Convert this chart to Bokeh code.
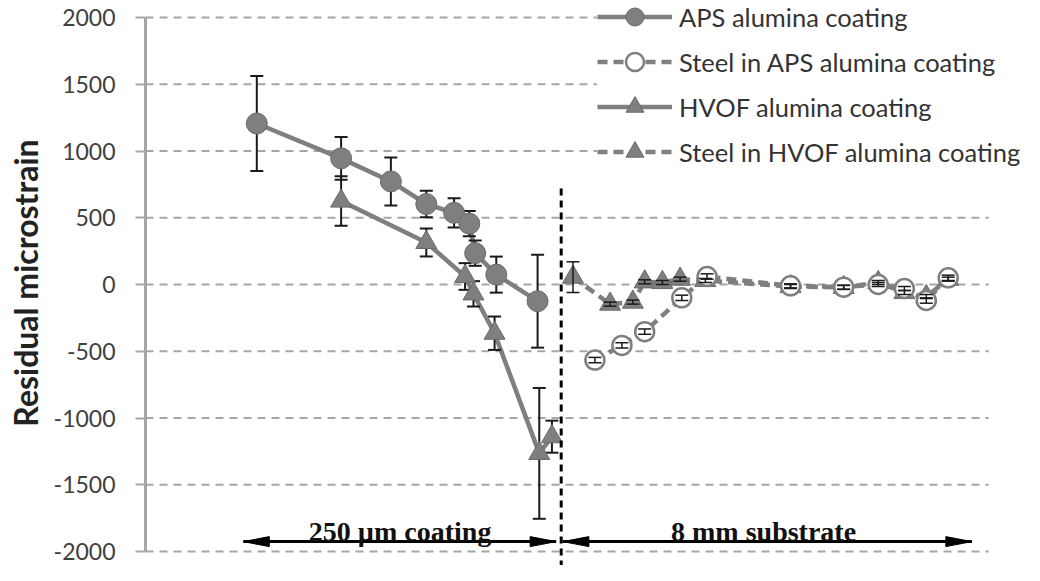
from bokeh.plotting import figure
from bokeh.models import Range1d, FixedTicker, Legend, LegendItem, Label
from bokeh.embed import file_html
from bokeh.resources import INLINE

# ---------------- data (position along the through-thickness, relative units 0-100) -------------
aps_x = [13.2, 23.2, 29.1, 33.3, 36.6, 38.4, 39.1, 41.6, 46.5]
aps_y = [1206, 945, 772, 603, 537, 456, 235, 74, -125]
aps_err = [355, 160, 180, 100, 110, 95, 95, 135, 348]

hvof_x = [23.2, 33.3, 37.9, 38.9, 41.4, 46.7, 48.2]
hvof_y = [625, 315, 60, -70, -365, -1265, -1140]
hvof_err = [185, 105, 100, 95, 125, 490, 120]

steel_aps_x = [53.3, 56.5, 59.2, 63.6, 66.6, 76.5, 82.8, 86.9, 90.0, 92.6, 95.2]
steel_aps_y = [-566, -456, -353, -100, 60, -10, -20, 0, -30, -120, 50]
steel_aps_err = [20, 20, 20, 20, 20, 15, 15, 15, 15, 20, 20]

steel_hvof_x = [50.7, 55.1, 57.8, 59.2, 61.3, 63.4, 66.4, 76.5, 82.8, 86.9, 90.0, 92.6, 95.2]
steel_hvof_y = [55, -147, -132, 20, 15, 40, 30, -15, -22, 15, -60, -90, 40]
steel_hvof_err = [115, 15, 15, 15, 15, 15, 15, 15, 15, 15, 15, 15, 15]

y_ticks = [-2000, -1500, -1000, -500, 0, 500, 1000, 1500, 2000]
x_plot_end = 100

labels = ["APS alumina coating", "Steel in APS alumina coating",
          "HVOF alumina coating", "Steel in HVOF alumina coating"]

region_labels = ["250 µm coating", "8 mm substrate"]
region_label_x = [30.2, 73.3]
region_label_y = -1853
interface_x = 49.3
interface_top = 720
arrow_left = [11.6, 48.7]
arrow_right = [49.5, 98.0]
arrow_y = -1926

# ---------------- styling / geometry ----------------
GRAY = "#7f7f7f"
DARK = "#1a1a1a"
GRID = "#a6a6a6"
FONT = "Lato"

FIG_W, FIG_H = 1024, 565
BORDER_L = 145
px_x = 8.432                     # pixels per x unit
top_px, bot_px = 17, 551         # pixel rows of +2000 / -2000 inside the figure
k = (bot_px - top_px) / 4000.0   # pixels per microstrain
Y1 = 2000 + top_px / k
Y0 = -2000 - (FIG_H - bot_px) / k
X0, X1 = 0, (FIG_W - BORDER_L) / px_x

p = figure(width=FIG_W, height=FIG_H,
           x_range=Range1d(X0, X1), y_range=Range1d(Y0, Y1),
           output_backend="svg", toolbar_location=None,
           x_axis_location=None,
           min_border_left=BORDER_L, min_border_right=0,
           min_border_top=0, min_border_bottom=0)
p.outline_line_color = None
p.background_fill_color = "white"
p.border_fill_color = "white"
p.xgrid.visible = False
p.ygrid.visible = False

ax = p.yaxis[0]
ax.ticker = FixedTicker(ticks=y_ticks)
ax.major_label_overrides = {t: str(t) for t in y_ticks}
ax.bounds = (-2000, 2000)
ax.axis_line_color = GRID
ax.axis_line_width = 3
ax.major_tick_line_color = GRID
ax.major_tick_line_width = 2
ax.major_tick_out = 10
ax.major_tick_in = 0
ax.minor_tick_line_color = None
ax.major_label_standoff = 20
ax.major_label_text_font = FONT
ax.major_label_text_font_size = "23px"
ax.major_label_text_color = "#404040"
ax.axis_label = "Residual microstrain"
ax.axis_label_text_font = FONT
ax.axis_label_text_font_style = "bold"
ax.axis_label_text_font_size = "32px"
ax.axis_label_text_color = "#222222"
ax.axis_label_standoff = 6

# horizontal dashed grid lines (ending at the plot's right edge)
p.segment([X0] * len(y_ticks), y_ticks, [x_plot_end] * len(y_ticks), y_ticks,
          line_color=GRID, line_width=2, line_dash="8 6")


def err_segments(xs, ys, es):
    cap = 6.5 / px_x
    vx0, vy0, vx1, vy1 = [], [], [], []
    for x, y, e in zip(xs, ys, es):
        vx0 += [x, x - cap, x - cap]
        vx1 += [x, x + cap, x + cap]
        vy0 += [y - e, y + e, y - e]
        vy1 += [y + e, y + e, y - e]
    return vx0, vy0, vx1, vy1


# lines
r_aps_l = p.line(aps_x, aps_y, line_color=GRAY, line_width=4.5)
r_hvof_l = p.line(hvof_x, hvof_y, line_color=GRAY, line_width=4.5)
r_saps_l = p.line(steel_aps_x, steel_aps_y, line_color=GRAY, line_width=4.5, line_dash="10 6")
r_shvof_l = p.line(steel_hvof_x, steel_hvof_y, line_color=GRAY, line_width=4.5, line_dash="10 6")

# coating error bars (behind markers)
for xs, ys, es in [(aps_x, aps_y, aps_err), (hvof_x, hvof_y, hvof_err)]:
    a, b, c, d = err_segments(xs, ys, es)
    p.segment(a, b, c, d, line_color=DARK, line_width=2)

# markers
r_aps_m = p.scatter(aps_x, aps_y, marker="circle", size=21, fill_color=GRAY,
                    line_color="#6a6a6a", line_width=1)
r_hvof_m = p.scatter(hvof_x, hvof_y, marker="triangle", size=21, fill_color=GRAY,
                     line_color="#6a6a6a", line_width=1)
r_shvof_m = p.scatter(steel_hvof_x, steel_hvof_y, marker="triangle", size=21, fill_color=GRAY,
                      line_color="#6a6a6a", line_width=1)
r_saps_m = p.scatter(steel_aps_x, steel_aps_y, marker="circle", size=19, fill_color="white",
                     line_color=GRAY, line_width=2.5)

# steel error bars (on top)
for xs, ys, es in [(steel_aps_x, steel_aps_y, steel_aps_err),
                   (steel_hvof_x, steel_hvof_y, steel_hvof_err)]:
    a, b, c, d = err_segments(xs, ys, es)
    p.segment(a, b, c, d, line_color=DARK, line_width=1.5)

# coating / substrate interface
p.segment([interface_x], [interface_top], [interface_x], [Y0],
          line_color="black", line_width=3, line_dash="7 5")

# region arrows
p.segment([arrow_left[0], arrow_right[0]], [arrow_y, arrow_y],
          [arrow_left[1], arrow_right[1]], [arrow_y, arrow_y],
          line_color="black", line_width=3)
hl = 26 / px_x
hw = 5 / k
tips = [(arrow_left[0], -1), (arrow_left[1], 1), (arrow_right[0], -1), (arrow_right[1], 1)]
hx, hy = [], []
for tx, d in tips:
    hx.append([tx, tx - d * hl, tx - d * hl])
    hy.append([arrow_y, arrow_y + hw, arrow_y - hw])
p.patches(hx, hy, fill_color="black", line_color="black", line_width=1)

for t, x in zip(region_labels, region_label_x):
    p.add_layout(Label(x=x, y=region_label_y, text=t, text_align="center",
                       text_baseline="alphabetic",
                       text_font="Liberation Serif", text_font_style="bold",
                       text_font_size="28px", text_color="#111111"))

legend = Legend(items=[
    LegendItem(label=labels[0], renderers=[r_aps_l, r_aps_m]),
    LegendItem(label=labels[1], renderers=[r_saps_l, r_saps_m]),
    LegendItem(label=labels[2], renderers=[r_hvof_l, r_hvof_m]),
    LegendItem(label=labels[3], renderers=[r_shvof_l, r_shvof_m]),
], location=(452, 391), orientation="vertical",
    glyph_width=75, glyph_height=45, label_height=45, spacing=0,
    padding=8, margin=0, label_standoff=7,
    background_fill_color="white", background_fill_alpha=1.0,
    border_line_color=None,
    label_text_font=FONT, label_text_font_size="25.5px", label_text_color="#333333")
p.add_layout(legend)

open("out.html", "w").write(file_html(p, INLINE))
